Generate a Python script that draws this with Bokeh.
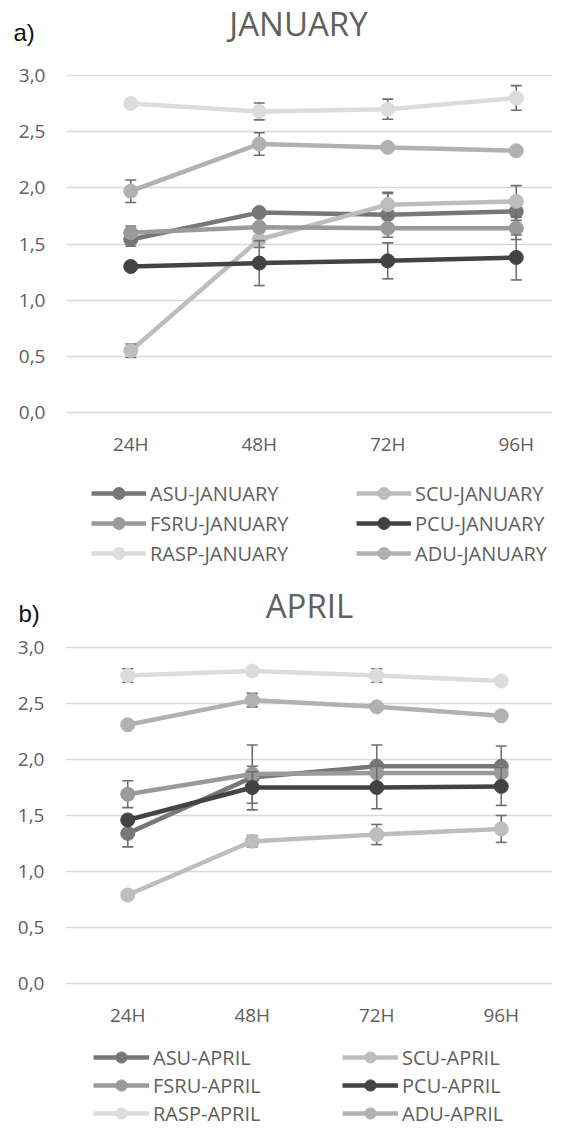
from bokeh.plotting import figure
from bokeh.models import (Range1d, FixedTicker, CustomJSTickFormatter, Legend,
                          LegendItem, Label)
from bokeh.layouts import column
from bokeh.embed import file_html
from bokeh.resources import INLINE

# ---------------- data ----------------
hours = ["24H", "48H", "72H", "96H"]
series_names = ["ASU", "SCU", "FSRU", "PCU", "RASP", "ADU"]
series_colors = ["#77777a", "#bdbdbf", "#9a9a9c", "#434345", "#dcdcdd", "#b1b1b3"]
y_ticks = [0.0, 0.5, 1.0, 1.5, 2.0, 2.5, 3.0]

jan_asu = [1.54, 1.78, 1.76, 1.79]
jan_scu = [0.55, 1.54, 1.85, 1.88]
jan_fsru = [1.60, 1.65, 1.64, 1.64]
jan_pcu = [1.30, 1.33, 1.35, 1.38]
jan_rasp = [2.75, 2.68, 2.70, 2.80]
jan_adu = [1.97, 2.39, 2.36, 2.33]

jan_asu_err = [0.06, 0.0, 0.20, 0.08]
jan_scu_err = [0.06, 0.07, 0.10, 0.14]
jan_fsru_err = [0.06, 0.0, 0.0, 0.10]
jan_pcu_err = [0.0, 0.20, 0.16, 0.20]
jan_rasp_err = [0.0, 0.075, 0.09, 0.11]
jan_adu_err = [0.10, 0.10, 0.0, 0.0]

apr_asu = [1.34, 1.84, 1.94, 1.94]
apr_scu = [0.79, 1.27, 1.33, 1.38]
apr_fsru = [1.69, 1.87, 1.88, 1.88]
apr_pcu = [1.46, 1.75, 1.75, 1.76]
apr_rasp = [2.75, 2.79, 2.75, 2.70]
apr_adu = [2.31, 2.53, 2.47, 2.39]

apr_asu_err = [0.12, 0.29, 0.19, 0.18]
apr_scu_err = [0.0, 0.05, 0.09, 0.12]
apr_fsru_err = [0.12, 0.07, 0.0, 0.0]
apr_pcu_err = [0.0, 0.14, 0.19, 0.17]
apr_rasp_err = [0.06, 0.0, 0.06, 0.0]
apr_adu_err = [0.0, 0.06, 0.0, 0.0]

# ---------------- style ----------------
TEXT = "#606060"
ERR = "#6e6e6e"
FONT = "Open Sans"
W = 552


def header(month, tag, height, tag_pos, title_pos):
    h = figure(width=W, height=height, output_backend="svg", toolbar_location=None,
               x_range=Range1d(0, 1), y_range=Range1d(0, 1), min_border=0,
               x_axis_location=None, y_axis_location=None, frame_align=False)
    h.outline_line_color = None
    h.grid.visible = False
    h.add_layout(Label(x=tag_pos[0], y=tag_pos[1], x_units="screen", y_units="screen",
                       text=tag, text_font="Liberation Sans", text_font_size="24px",
                       text_color="#111111", text_baseline="alphabetic"))
    h.add_layout(Label(x=title_pos[0], y=title_pos[1], x_units="screen", y_units="screen",
                       text=month, text_font=FONT, text_font_size="33px",
                       text_color=TEXT, text_align="center", text_baseline="alphabetic"))
    return h


def build(month, vals, errs, frame_left, px_per_cat, px_per_unit, height, top3, b_top,
          leg_loc, leg_glyph_w, leg_label_w, leg_row_h, leg_font_size):
    # top3: pixel distance from figure top to the 3,0 gridline
    frame_h = height - b_top
    y_end = 3.0 + (top3 - b_top) / px_per_unit
    y_start = y_end - frame_h / px_per_unit
    p = figure(width=W, height=height, output_backend="svg", toolbar_location=None,
               x_range=Range1d(0, (W - frame_left) / px_per_cat),
               y_range=Range1d(y_start, y_end),
               min_border_left=frame_left, min_border_right=0,
               min_border_top=b_top, min_border_bottom=0, frame_align=False)
    p.outline_line_color = None
    p.xgrid.visible = False
    p.yaxis.ticker = FixedTicker(ticks=y_ticks)
    p.ygrid.grid_line_color = "#d9d9d9"
    p.ygrid.grid_line_width = 1.3
    p.yaxis.formatter = CustomJSTickFormatter(code="return tick.toFixed(1).replace('.', ',')")
    xs = [i + 0.5 for i in range(len(hours))]
    p.xaxis.ticker = FixedTicker(ticks=xs)
    p.xaxis.major_label_overrides = {x: h for x, h in zip(xs, hours)}
    p.xaxis.fixed_location = 0
    for ax in (p.xaxis[0], p.yaxis[0]):
        ax.axis_line_color = None
        ax.major_tick_line_color = None
        ax.minor_tick_line_color = None
        ax.major_tick_in = 0
        ax.major_tick_out = 0
        ax.major_label_text_font = FONT
        ax.major_label_text_font_size = "19px"
        ax.major_label_text_color = TEXT
    p.xaxis.major_label_standoff = 18
    p.yaxis.major_label_standoff = 21

    items = []
    for name, color, v, e in zip(series_names, series_colors, vals, errs):
        lr = p.line(xs, v, line_color=color, line_width=4.5)
        ex = [x for x, er in zip(xs, e) if er > 0]
        lo = [y - er for y, er in zip(v, e) if er > 0]
        hi = [y + er for y, er in zip(v, e) if er > 0]
        if ex:
            p.segment(ex, lo, ex, hi, line_color=ERR, line_width=1.6)
            p.scatter(ex + ex, lo + hi, marker="dash", size=11,
                      line_color=ERR, line_width=1.6)
        sr = p.scatter(xs, v, size=14, fill_color=color, line_color=color)
        items.append(LegendItem(label=f"{name}-{month}", renderers=[lr, sr]))

    leg = Legend(items=items, location=leg_loc, orientation="horizontal", ncols=2,
                 glyph_width=leg_glyph_w, glyph_height=leg_row_h,
                 label_height=leg_row_h, label_width=leg_label_w, label_standoff=4,
                 spacing=0, padding=0, margin=0, border_line_color=None,
                 background_fill_alpha=0, label_text_font=FONT,
                 label_text_font_size=leg_font_size, label_text_color=TEXT)
    p.add_layout(leg, "center")
    return p


h1 = header("JANUARY", "a)", 60, tag_pos=(13, 28.5), title_pos=(298, 37))
p1 = build("JANUARY",
           [jan_asu, jan_scu, jan_fsru, jan_pcu, jan_rasp, jan_adu],
           [jan_asu_err, jan_scu_err, jan_fsru_err, jan_pcu_err, jan_rasp_err, jan_adu_err],
           frame_left=66, px_per_cat=128.5, px_per_unit=337 / 3, height=520, top3=15, b_top=14,
           leg_loc=(25, 12), leg_glyph_w=55, leg_label_w=206, leg_row_h=30,
           leg_font_size="20px")

h2 = header("APRIL", "b)", 53, tag_pos=(18, 20.5), title_pos=(309, 28))
p2 = build("APRIL",
           [apr_asu, apr_scu, apr_fsru, apr_pcu, apr_rasp, apr_adu],
           [apr_asu_err, apr_scu_err, apr_fsru_err, apr_pcu_err, apr_rasp_err, apr_adu_err],
           frame_left=65, px_per_cat=124.5, px_per_unit=112, height=495, top3=14, b_top=13,
           leg_loc=(28, 1), leg_glyph_w=56, leg_label_w=189, leg_row_h=28,
           leg_font_size="20px")

layout = column(h1, p1, h2, p2)
open("out.html", "w").write(file_html(layout, INLINE))
